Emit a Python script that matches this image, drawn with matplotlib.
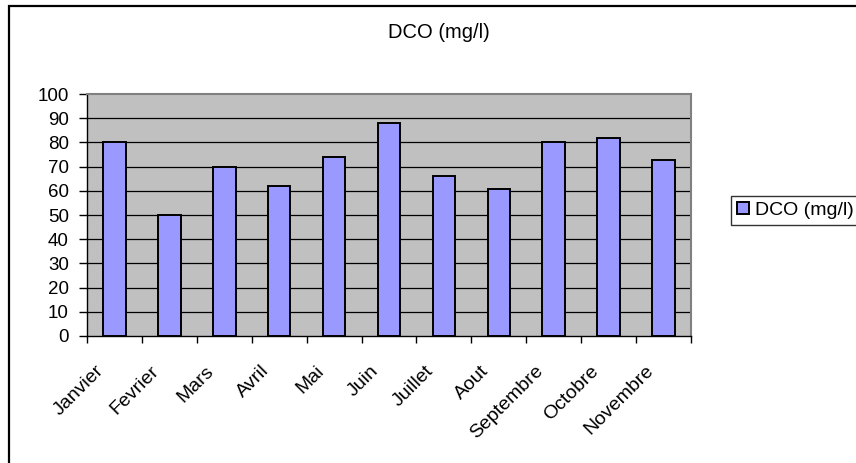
import matplotlib
matplotlib.use('Agg')
import matplotlib.pyplot as plt
from matplotlib import rcParams
from matplotlib.patches import Rectangle
import matplotlib.transforms as mtransforms
import numpy as np

rcParams.update({
    "font.family": ['Liberation Sans', 'DejaVu Sans'],
    "font.size": 14,
})

mois = ['Janvier', 'Fevrier', 'Mars', 'Avril', 'Mai', 'Juin', 'Juillet',
        'Aout', 'Septembre', 'Octobre', 'Novembre']
dco = [80, 50, 70, 62, 74, 88, 66, 60.8, 80, 82, 72.7]
y_ticks = [0, 10, 20, 30, 40, 50, 60, 70, 80, 90, 100]
titre = 'DCO (mg/l)'

W, H = 856, 463
fig = plt.figure(figsize=(W / 100, H / 100), dpi=100)
fig.patch.set_facecolor('white')

# plot area in pixels: x 87..691, y 94..336
ax = fig.add_axes([87 / W, (H - 336) / H, 604 / W, 242 / H])
ax.set_facecolor('#c0c0c0')

x = np.arange(len(mois))
ax.bar(x, dco, width=0.41, color='#9999ff', edgecolor='black',
       linewidth=1.4, zorder=3, label=titre)

ax.set_xlim(-0.5, len(mois) - 0.5)
ax.set_ylim(0, 100)
ax.set_yticks(y_ticks)
ax.set_yticklabels([str(v) for v in y_ticks], fontsize=13.5)
for v in y_ticks[1:-1]:
    ax.axhline(v, color='black', linewidth=0.9, zorder=1)

# x ticks sit between categories, labels at category centres
ax.set_xticks(np.arange(len(mois) + 1) - 0.5)
ax.set_xticklabels([])
ax.set_xticks(x, minor=True)
ax.set_xticklabels(mois, minor=True, rotation=45, ha='right',
                   rotation_mode='anchor', fontsize=14)
ax.tick_params(axis='x', which='minor', length=0, pad=19)
ax.tick_params(axis='x', which='major', length=5, width=1, direction='out')
ax.tick_params(axis='y', length=6, width=1, direction='out', pad=7)
offset = mtransforms.ScaledTranslation(-19 / 100, 0, fig.dpi_scale_trans)
for lab in ax.get_xticklabels(minor=True):
    lab.set_transform(lab.get_transform() + offset)

for s in ['left', 'bottom']:
    ax.spines[s].set_color('black')
    ax.spines[s].set_linewidth(1.0)
for s in ['top', 'right']:
    ax.spines[s].set_color('#808080')
    ax.spines[s].set_linewidth(1.5)

fig.text(439 / W, (H - 32) / H, titre, ha='center', va='center', fontsize=14.5)

leg = fig.legend(loc='upper left', bbox_to_anchor=(731 / W, (H - 196) / H),
                 frameon=True, fancybox=False, edgecolor='black', fontsize=14,
                 handlelength=0.6, handleheight=0.6, handletextpad=0.35,
                 borderpad=0.3, borderaxespad=0)
leg.get_frame().set_linewidth(1.0)

# chart border
fig.patches.append(Rectangle((9 / W, -0.1), 1.2, (H - 5.5) / H + 0.1,
                             transform=fig.transFigure, fill=False,
                             edgecolor='black', linewidth=1.6))

fig.savefig('out.png', dpi=100)
